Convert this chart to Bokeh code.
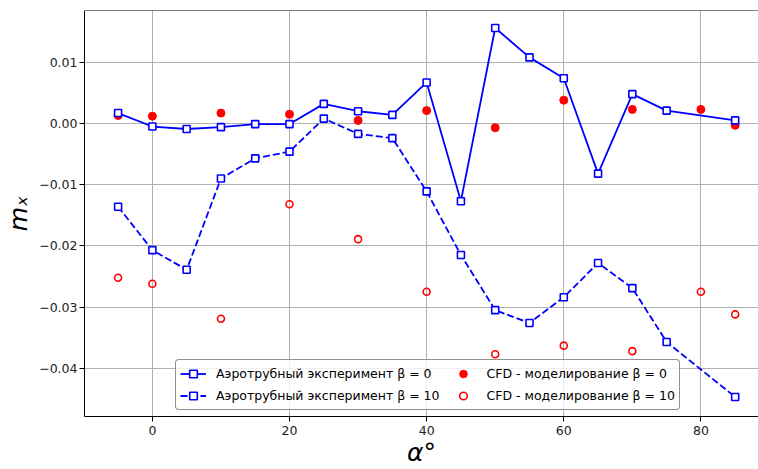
from bokeh.plotting import figure
from bokeh.models import (Legend, LegendItem, Span, FixedTicker,
                          CustomJSTickFormatter, Range1d)
from bokeh.embed import file_html
from bokeh.resources import INLINE

# ---- data ----
alpha_exp = [-5, 0, 5, 10, 15, 20, 25, 30, 35, 40, 45, 50, 55, 60, 65, 70, 75, 85]
exp_beta0 = [0.0017, -0.0005, -0.0009, -0.0006, -0.0001, -0.0001, 0.0032, 0.0020,
             0.0014, 0.0067, -0.0127, 0.0156, 0.0108, 0.0074, -0.0082, 0.0048,
             0.0021, 0.0005]
exp_beta10 = [-0.0136, -0.0207, -0.0239, -0.0090, -0.0057, -0.0046, 0.0008, -0.0017,
              -0.0024, -0.0111, -0.0215, -0.0305, -0.0326, -0.0284, -0.0228, -0.0269,
              -0.0357, -0.0447]

alpha_cfd = [-5, 0, 10, 20, 30, 40, 50, 60, 70, 80, 85]
cfd_beta0 = [0.0013, 0.0012, 0.0017, 0.0015, 0.0005, 0.0021, -0.0007, 0.0038,
             0.0023, 0.0023, -0.0003]
cfd_beta10 = [-0.0252, -0.0262, -0.0319, -0.0132, -0.0189, -0.0275, -0.0377,
              -0.0363, -0.0372, -0.0275, -0.0312]

x_ticks = [0, 20, 40, 60, 80]
y_ticks = [-0.04, -0.03, -0.02, -0.01, 0.0, 0.01]

label_exp0 = "Аэротрубный эксперимент β = 0"
label_exp10 = "Аэротрубный эксперимент β = 10"
label_cfd0 = "CFD - моделирование β = 0"
label_cfd10 = "CFD - моделирование β = 10"
x_label = "α°"
y_label = "mₓ"

X_MIN, X_MAX = -9.9, 88.4
Y_MIN, Y_MAX = -0.04788, 0.01846

FONT = "DejaVu Sans"
BLUE = "#0000ff"
RED = "#ff0000"

p = figure(width=758, height=469, output_backend="svg", toolbar_location=None,
           x_range=Range1d(X_MIN, X_MAX), y_range=Range1d(Y_MIN, Y_MAX),
           min_border_left=84, min_border_right=0, min_border_top=10,
           min_border_bottom=51)
p.outline_line_color = None
p.background_fill_color = "white"
p.border_fill_color = "white"

# axes
p.xaxis.ticker = FixedTicker(ticks=x_ticks)
p.yaxis.ticker = FixedTicker(ticks=y_ticks)
p.yaxis.formatter = CustomJSTickFormatter(
    code="return (tick < -1e-9 ? '\u2212' : '') + Math.abs(tick).toFixed(2);")
for ax in (p.xaxis[0], p.yaxis[0]):
    ax.major_label_text_font = FONT
    ax.major_label_text_font_size = "12.5px"
    ax.major_label_text_color = "#222222"
    ax.major_tick_in = 0
    ax.major_tick_out = 5
    ax.major_tick_line_color = "black"
    ax.minor_tick_line_color = None
    ax.axis_line_color = "black"
    ax.axis_line_width = 1
    ax.axis_label_text_font = FONT
    ax.axis_label_text_font_style = "italic"
    ax.axis_label_text_color = "black"

p.xaxis.major_label_standoff = 4
p.yaxis.major_label_standoff = 2
p.xaxis.axis_label = x_label
p.xaxis.axis_label_text_font_size = "25px"
p.xaxis.axis_label_standoff = 0
p.yaxis.axis_label = y_label
p.yaxis.axis_label_text_font_size = "25px"
p.yaxis.axis_label_standoff = 3

p.xgrid.grid_line_color = "#b0b0b0"
p.ygrid.grid_line_color = "#b0b0b0"
p.xgrid.grid_line_width = 1
p.ygrid.grid_line_width = 1

# top spine
p.add_layout(Span(location=Y_MAX, dimension="width", line_color="black", line_width=1))

# CFD points (drawn first, below experiment lines)
r_cfd0 = p.scatter(alpha_cfd, cfd_beta0, marker="circle", size=8,
                   fill_color=RED, line_color=RED, line_width=1)
r_cfd10 = p.scatter(alpha_cfd, cfd_beta10, marker="circle", size=7,
                    fill_color=None, line_color=RED, line_width=1.6)

# experiment lines
l_exp0 = p.line(alpha_exp, exp_beta0, line_color=BLUE, line_width=1.8)
s_exp0 = p.scatter(alpha_exp, exp_beta0, marker="square", size=7,
                   fill_color="white", line_color=BLUE, line_width=1.6)
l_exp10 = p.line(alpha_exp, exp_beta10, line_color=BLUE, line_width=1.8,
                 line_dash="7 3")
s_exp10 = p.scatter(alpha_exp, exp_beta10, marker="square", size=7,
                    fill_color="white", line_color=BLUE, line_width=1.6)

pad = "  "
legend = Legend(items=[
    LegendItem(label=label_exp0 + pad, renderers=[l_exp0, s_exp0]),
    LegendItem(label=label_exp10 + pad, renderers=[l_exp10, s_exp10]),
    LegendItem(label=label_cfd0, renderers=[r_cfd0]),
    LegendItem(label=label_cfd10, renderers=[r_cfd10]),
], ncols=2, orientation="vertical", location=(91, 6), margin=0,
    padding=4, spacing=3, glyph_width=26, glyph_height=19, label_height=19,
    label_standoff=10, label_text_font=FONT, label_text_font_size="12.5px",
    label_text_color="black", border_line_color="#222222", border_line_width=1,
    border_radius=4,
    background_fill_color="white", background_fill_alpha=0.8)
p.add_layout(legend)

open("out.html", "w").write(file_html(p, INLINE))
